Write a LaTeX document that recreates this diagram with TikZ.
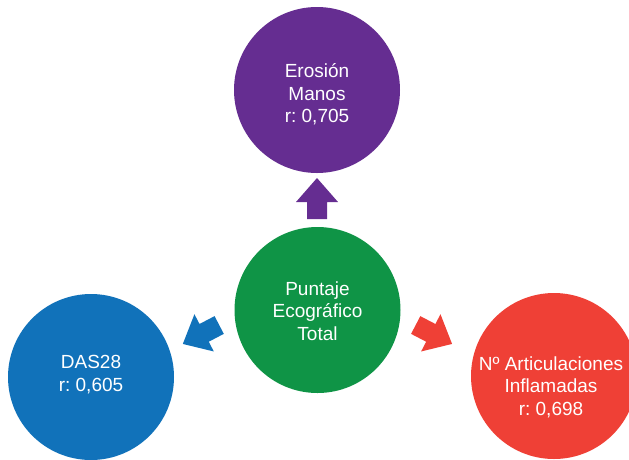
\documentclass[tikz,border=0pt]{standalone}
\usepackage{fontspec}
\setmainfont{Liberation Sans}
\frenchspacing

\definecolor{ecoPurple}{RGB}{101,45,145}
\definecolor{ecoGreen}{RGB}{15,148,70}
\definecolor{ecoBlue}{RGB}{17,114,186}
\definecolor{ecoRed}{RGB}{239,64,54}

\tikzset{
  bubble/.style={circle, draw=none, inner sep=0pt, minimum size=166pt},
  bubbletext/.style={text=white, align=center, inner sep=0.75pt, font=\fontsize{19}{22.4}\selectfont},
  blockarrow/.pic={
    \fill (0,-10) -- (17,-10) -- (17,-21) -- (41,0) -- (17,21) -- (17,10) -- (0,10) -- cycle;
  },
}

\begin{document}
\begin{tikzpicture}[x=1pt,y=1pt,yscale=-1,xscale=1]
        \useasboundingbox (0,0) rectangle (629,459);
        %Shape: Circle [erosion]
        \node [bubble, fill=ecoPurple] (erosion) at (317,90) {};
        %Shape: Circle [puntaje]
        \node [bubble, fill=ecoGreen] (puntaje) at (317.5,310) {};
        %Shape: Circle [das]
        \node [bubble, fill=ecoBlue] (das) at (91,377) {};
        %Shape: Circle [articulaciones]
        \node [bubble, fill=ecoRed] (articulaciones) at (554,376) {};

        % Arrow starts
        \coordinate (upStart) at (317,219);
        \coordinate (leftStart) at (219.2,325);
        \coordinate (rightStart) at (415.7,325);

        %Block Arrows
        \pic [ecoPurple, rotate=90] at (upStart) {blockarrow};
        \pic [ecoBlue, rotate=-152.5] at (leftStart) {blockarrow};
        \pic [ecoRed, rotate=-27.5] at (rightStart) {blockarrow};

        % Text Node
        \node [bubbletext] (erosionText) at (317,94.5) {Erosión\\Manos\\r: 0,705};
        % Text Node
        \node [bubbletext] (puntajeText) at (317.5,311) {Puntaje\\Ecográfico\\Total};
        % Text Node
        \node [bubbletext] (dasText) at (91,374.5) {DAS28\\r: 0,605};
        % Text Node
        \node [bubbletext] (articulacionesText) at (551,387) {Nº Articulaciones\\Inflamadas\\r: 0,698};
\end{tikzpicture}
\end{document}
